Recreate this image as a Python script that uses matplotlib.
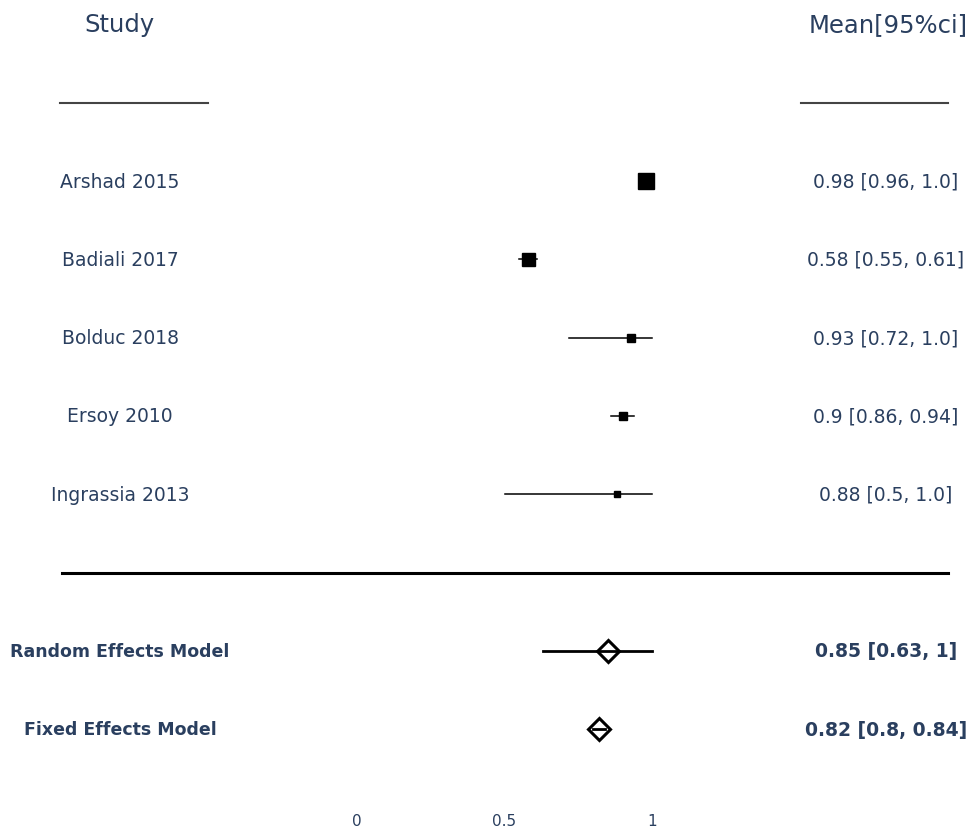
import matplotlib.pyplot as plt
import numpy as np

# study level estimates
studies = ['Arshad 2015', 'Badiali 2017', 'Bolduc 2018', 'Ersoy 2010', 'Ingrassia 2013']
means = [0.98, 0.58, 0.93, 0.90, 0.88]
lower = [0.96, 0.55, 0.72, 0.86, 0.50]
upper = [1.0, 0.61, 1.0, 0.94, 1.0]
weights = [37, 30, 11, 13, 9]
ci_text = ['0.98 [0.96, 1.0]', '0.58 [0.55, 0.61]', '0.93 [0.72, 1.0]',
           '0.9 [0.86, 0.94]', '0.88 [0.5, 1.0]']

# pooled estimates
models = ['Random Effects Model', 'Fixed Effects Model']
model_means = [0.85, 0.82]
model_lower = [0.63, 0.80]
model_upper = [1.0, 0.84]
model_text = ['0.85 [0.63, 1]', '0.82 [0.8, 0.84]']

xticks = [0, 0.5, 1]

txt = '#2a3f5f'
W, H = 974, 829

fig = plt.figure(figsize=(W / 100, H / 100), dpi=100)
ax = fig.add_axes([0, 21 / H, 1, 1 - 21 / H])

# x scale: 0 -> 357px, 1 -> 652px
ppu = 295.0
ax.set_xlim(-357 / ppu, (W - 357) / ppu)
# rows are 78.3px apart, first study row at 182px
rowh = 78.3
ax.set_ylim((808 - 182) / rowh, -182 / rowh)

rows = np.arange(len(studies))
mod_rows = np.arange(len(models)) + len(studies) + 1

left_x = 120 / W
right_x = 886 / W
trans_l = ax.get_yaxis_transform()

# headers
ax.text(left_x, -2, 'Study', transform=trans_l, ha='center', va='center',
        fontsize=17.5, color=txt)
ax.text(888 / W, -2, 'Mean[95%ci]', transform=trans_l, ha='center', va='center',
        fontsize=17.5, color=txt)
ax.plot([60 / W, 208 / W], [-1, -1], transform=trans_l, color='#444444', lw=1.5)
ax.plot([801 / W, 948 / W], [-1, -1], transform=trans_l, color='#444444', lw=1.5)

# studies
for i in rows:
    ax.plot([lower[i], upper[i]], [i, i], color='black', lw=1.1, zorder=2)
    ms = (4 + 0.3 * weights[i]) * 0.72
    ax.plot(means[i], i, marker='s', ms=ms, color='black', zorder=3)
    ax.text(left_x, i, studies[i], transform=trans_l, ha='center', va='center',
            fontsize=13.5, color=txt)
    ax.text(right_x, i, ci_text[i], transform=trans_l, ha='center', va='center',
            fontsize=13.5, color=txt)

# separator
sep = len(studies)
ax.plot([62 / W, 948 / W], [sep, sep], transform=trans_l, color='black', lw=2.2)

# pooled models
for j, r in enumerate(mod_rows):
    ax.plot([model_lower[j], model_upper[j]], [r, r], color='black', lw=2, zorder=2)
    ax.plot(model_means[j], r, marker='D', ms=11, mfc='none', mec='black',
            mew=2.2, zorder=3)
    ax.text(left_x, r, models[j], transform=trans_l, ha='center', va='center',
            fontsize=12.5, fontweight='bold', color=txt)
    ax.text(right_x, r, model_text[j], transform=trans_l, ha='center', va='center',
            fontsize=13.5, fontweight='bold', color=txt)

ax.set_xticks(xticks)
ax.set_xticklabels(['0', '0.5', '1'])
ax.tick_params(axis='x', length=0, pad=4, labelsize=11, labelcolor=txt)
ax.set_yticks([])
for s in ax.spines.values():
    s.set_visible(False)

fig.savefig('out.png', dpi=100, facecolor='white')
